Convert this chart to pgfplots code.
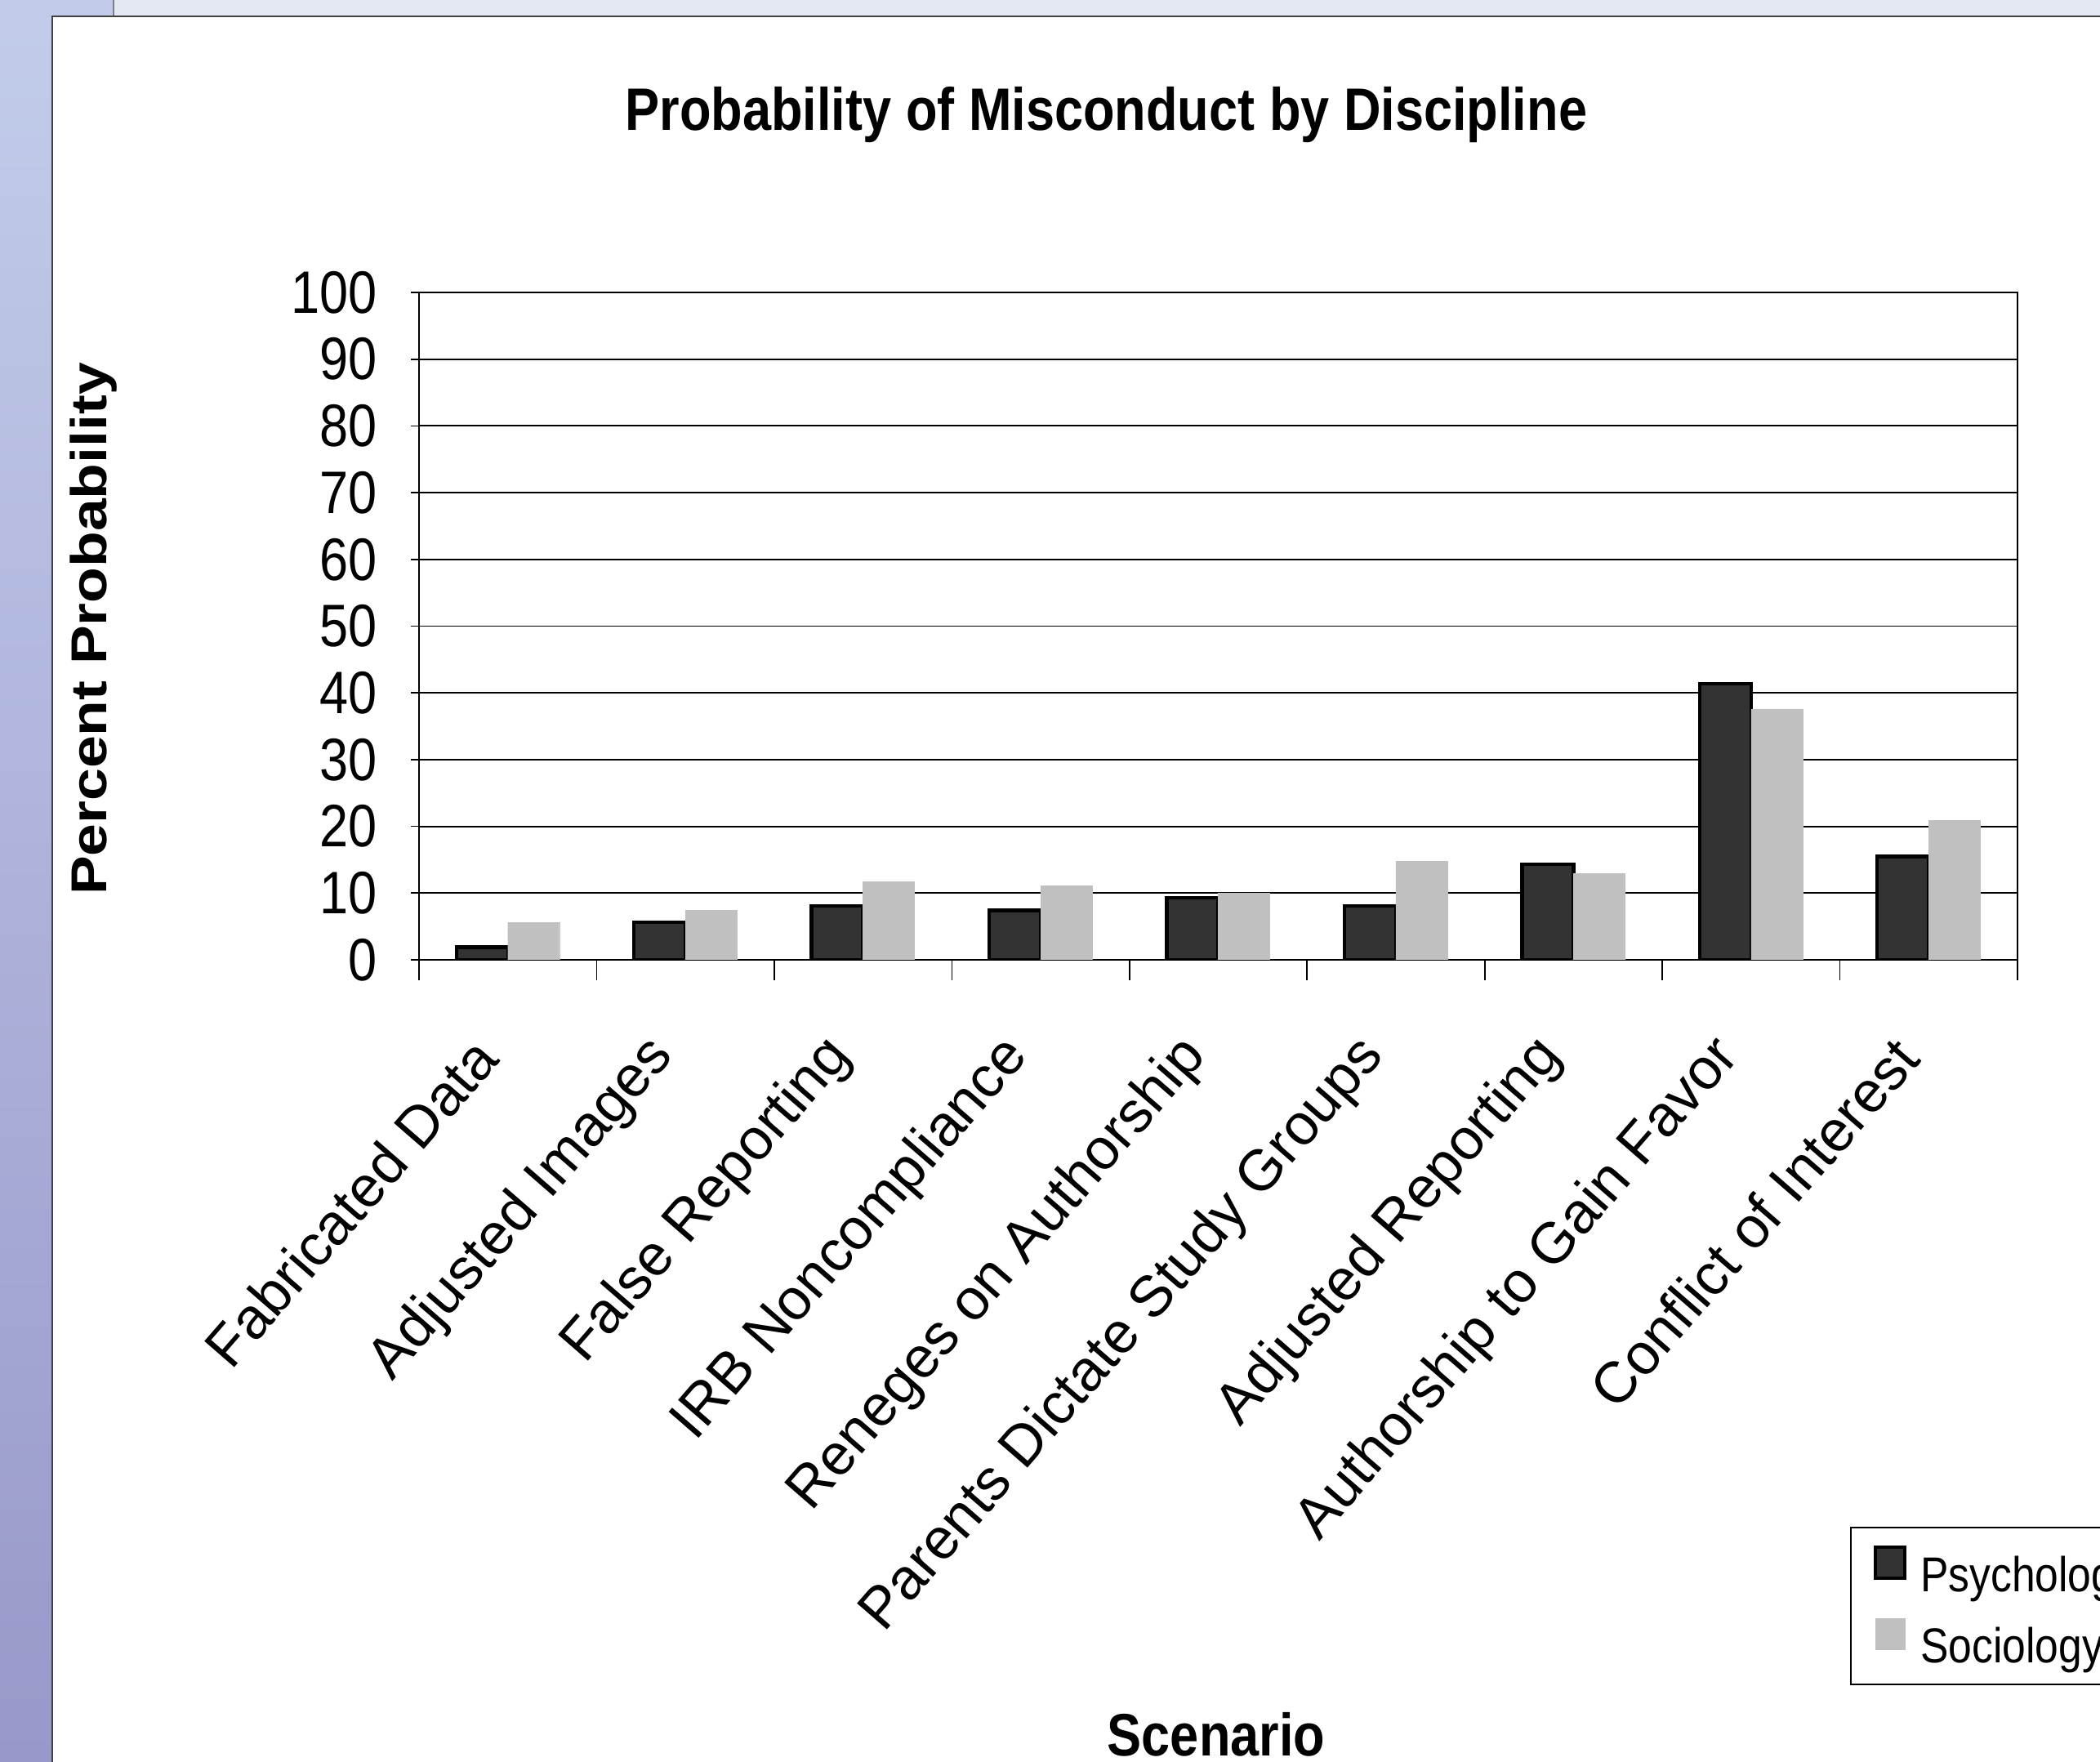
\documentclass[border=0pt]{standalone}
\usepackage{pgfplots}
\pgfplotsset{compat=1.18}
\usepackage{fontspec}
\setmainfont{Liberation Sans}[FakeStretch=0.86]
\newfontfamily\ylabfont{Liberation Sans}[FakeStretch=1.16]
\newfontfamily\xtickfont{Liberation Sans}
\definecolor{psych}{HTML}{333333}
\definecolor{soc}{HTML}{C0C0C0}
\definecolor{topband}{HTML}{E4E8F2}
\definecolor{leftA}{HTML}{C2CCEA}
\definecolor{leftB}{HTML}{9898CA}
\pgfplotsset{sqlegend/.style={legend image code/.code={\draw[##1] (0pt,1pt) rectangle (10.8pt,12.5pt);}}}
\begin{document}
\begin{tikzpicture}
\useasboundingbox (0,0) rectangle (771.3pt,647.1pt);
\fill[white] (0,0) rectangle (771.3pt,647.1pt);
\fill[topband] (0,641.4pt) rectangle (771.3pt,647.1pt);
\fill[leftA] (0,641.4pt) rectangle (41.7pt,647.1pt);
\draw[black!50, line width=0.4pt] (41.7pt,641.4pt) -- (41.7pt,647.1pt);
\shade[top color=leftA, bottom color=leftB] (0,0) rectangle (19pt,641.4pt);
\draw[black!75, line width=0.8pt] (19.2pt,0) -- (19.2pt,641.1pt) -- (771.3pt,641.1pt);
\begin{axis}[
 at={(153.9pt,294.6pt)}, anchor=south west,
 scale only axis, width=587.1pt, height=245.1pt,
 ybar=0pt, bar width=18.9pt,
 xmin=-0.5, xmax=8.5, ymin=0, ymax=100,
 xtick={0,...,8},
 xticklabels={Fabricated Data, Adjusted Images, False Reporting, IRB Noncompliance, Reneges on Authorship, Parents Dictate Study Groups, Adjusted Reporting, Authorship to Gain Favor, Conflict of Interest},
 minor xtick={-0.5,0.5,...,8.5},
 ytick={0,10,...,100},
 tick align=outside,
 tick pos=left,
 major x tick style={draw=none},
 minor x tick style={black, line width=0.5pt},
 minor tick length=7.5pt,
 major tick length=3pt,
 y tick style={black, line width=0.5pt},
 ymajorgrids, grid style={black, line width=0.55pt},
 axis line style={black, line width=0.55pt},
 /pgf/number format/assume math mode=true,
 yticklabel style={font=\fontsize{22}{26}\selectfont, anchor=east, inner sep=0pt, xshift=-12.3pt},
 xticklabel shift=29pt,
 xticklabel style={font=\xtickfont\fontsize{21.2}{24}\selectfont, xshift=-8pt, rotate=49, anchor=east, inner sep=0pt},
 legend cell align=left,
 legend style={at={(0.8952,-0.8495)}, anchor=north west, draw=black, line width=0.6pt,
   font=\fontsize{18}{22}\selectfont, inner xsep=8.4pt, inner ysep=6.5pt, row sep=8pt,
   nodes={inner sep=0pt, text height=9.5pt, text depth=1.5pt},
   /tikz/every odd column/.append style={column sep=5.1pt}},
 every axis plot post/.append style={sqlegend},
]
\addplot[fill=psych, draw=black, line width=1.3pt] coordinates {(0,1.9) (1,5.6) (2,8.1) (3,7.4) (4,9.3) (5,8.1) (6,14.3) (7,41.4) (8,15.5)};
\addplot[fill=soc, draw=soc, line width=0.1pt] coordinates {(0,5.6) (1,7.4) (2,11.7) (3,11.1) (4,10.0) (5,14.8) (6,12.9) (7,37.6) (8,20.9)};
\legend{Psychology, Sociology}
\end{axis}
\node[font=\fontsize{22}{26}\selectfont\bfseries, anchor=base] at (406.3pt,599.2pt) {Probability of Misconduct by Discipline};
\node[font=\fontsize{22}{26}\selectfont\bfseries, anchor=base] at (446.7pt,2.2pt) {Scenario};
\node[font=\ylabfont\fontsize{18.5}{22}\selectfont\bfseries, rotate=90] at (34.4pt,416.1pt) {Percent Probability};
\end{tikzpicture}
\end{document}
